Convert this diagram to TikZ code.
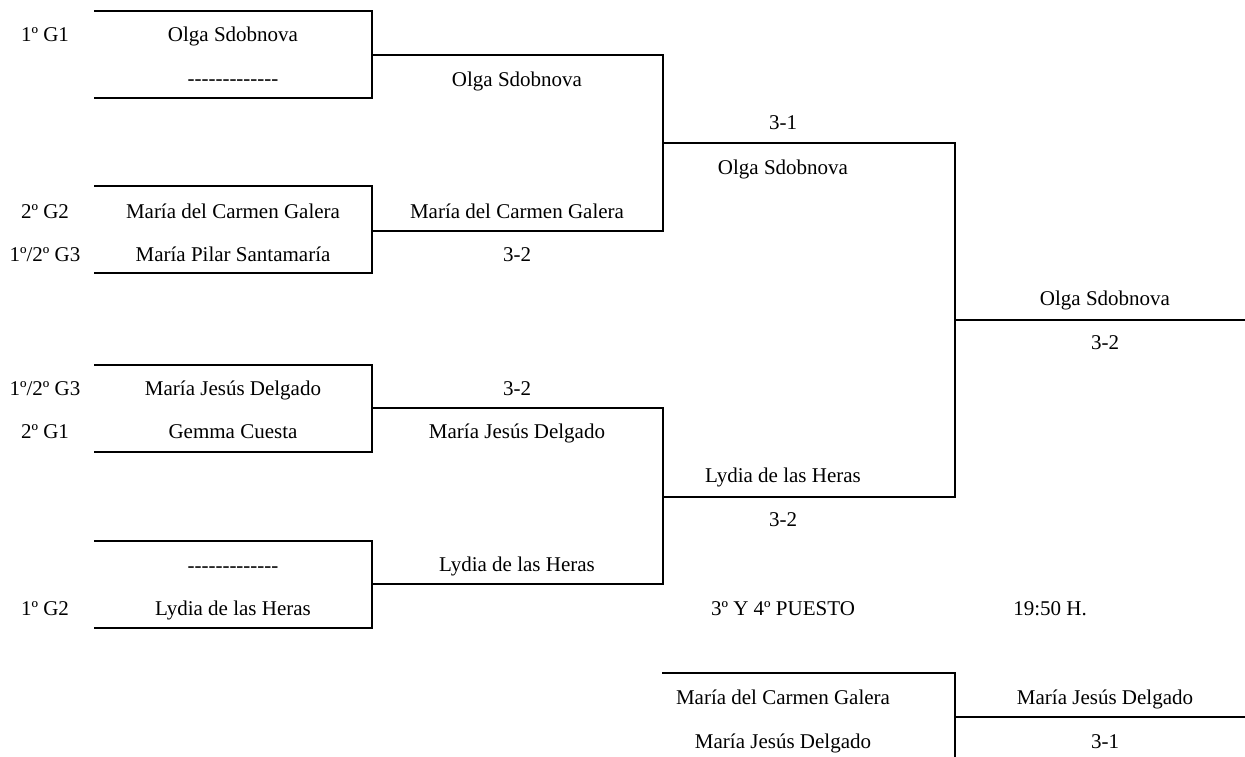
\documentclass[tikz,border=0pt]{standalone}
\usepackage{fontspec}
\setmainfont{Liberation Serif}[Ligatures=TeXOff]
\usetikzlibrary{positioning}

\tikzset{
    lbl/.style={inner sep=0pt, text height=14pt, text depth=0pt, font=\fontsize{21}{25}\selectfont},
    bracket/.style={line width=2.2pt, line cap=rect}
}

\begin{document}
\begin{tikzpicture}[x=1pt,y=-1pt]
    \useasboundingbox (0,0) rectangle (1245,756);

    % first round
    \draw[bracket] (95,11) -- (372,11) -- (372,98) -- (95,98);
    \draw[bracket] (95,186) -- (372,186) -- (372,273) -- (95,273);
    \draw[bracket] (95,365) -- (372,365) -- (372,452) -- (95,452);
    \draw[bracket] (95,541) -- (372,541) -- (372,628) -- (95,628);

    % quarter finals
    \draw[bracket] (372,55) -- (663,55) -- (663,231) -- (372,231);
    \draw[bracket] (372,408) -- (663,408) -- (663,584) -- (372,584);

    % semi finals and final
    \draw[bracket] (663,143) -- (955,143) -- (955,497) -- (663,497);
    \draw[bracket] (955,320) -- (1245,320);

    % 3rd and 4th place
    \draw[bracket] (663,673) -- (955,673) -- (955,760);
    \draw[bracket] (955,717) -- (1245,717);

    \node[lbl] (s1) at (45,34) {1º G1};
    \node[lbl] (s2) at (45,211) {2º G2};
    \node[lbl] (s3) at (45,254) {1º/2º G3};
    \node[lbl] (s4) at (45,388) {1º/2º G3};
    \node[lbl] (s5) at (45,431) {2º G1};
    \node[lbl] (s6) at (45,608) {1º G2};

    \node[lbl] (p1) at (233,34) {Olga Sdobnova};
    \node[lbl] (p2) at (233,78) {-------------};
    \node[lbl] (p3) at (233,211) {María del Carmen Galera};
    \node[lbl] (p4) at (233,254) {María Pilar Santamaría};
    \node[lbl] (p5) at (233,388) {María Jesús Delgado};
    \node[lbl] (p6) at (233,431) {Gemma Cuesta};
    \node[lbl] (p7) at (233,565) {-------------};
    \node[lbl] (p8) at (233,608) {Lydia de las Heras};

    \node[lbl] (q1) at (517,79) {Olga Sdobnova};
    \node[lbl] (q2) at (517,211) {María del Carmen Galera};
    \node[lbl] (q2r) at (517,254) {3-2};
    \node[lbl] (q3r) at (517,388) {3-2};
    \node[lbl] (q3) at (517,431) {María Jesús Delgado};
    \node[lbl] (q4) at (517,564) {Lydia de las Heras};

    \node[lbl] (sf1r) at (783,122) {3-1};
    \node[lbl] (sf1) at (783,167) {Olga Sdobnova};
    \node[lbl] (sf2) at (783,475) {Lydia de las Heras};
    \node[lbl] (sf2r) at (783,519) {3-2};

    \node[lbl] (fin) at (1105,298) {Olga Sdobnova};
    \node[lbl] (finr) at (1105,342) {3-2};

    \node[lbl] (tp) at (783,608) {3º Y 4º PUESTO};
    \node[lbl] (hora) at (1050,608) {19:50 H.};
    \node[lbl] (tp1) at (783,697) {María del Carmen Galera};
    \node[lbl] (tp2) at (783,741) {María Jesús Delgado};
    \node[lbl] (tpw) at (1105,697) {María Jesús Delgado};
    \node[lbl] (tpr) at (1105,741) {3-1};
\end{tikzpicture}
\end{document}
